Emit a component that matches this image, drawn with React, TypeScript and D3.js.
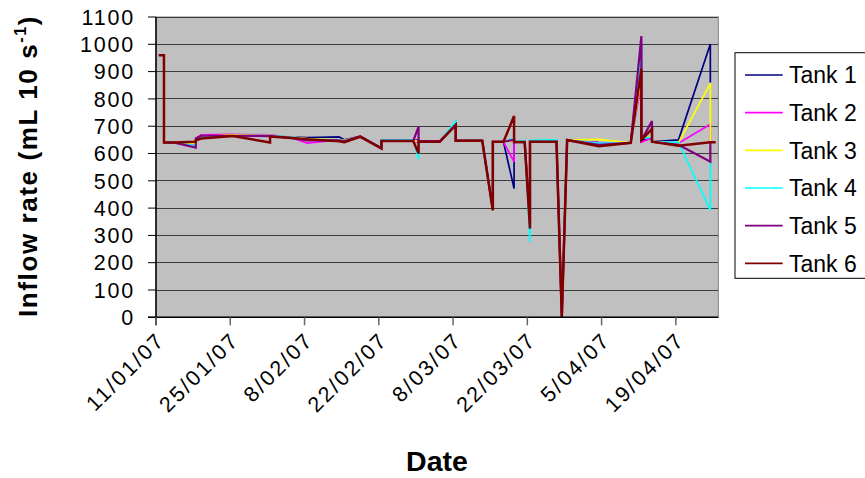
import React from 'react';
import * as d3 from 'd3';

// sample dates (repeated dates = several readings on one day)
const dates = [
  '11/01/07', '12/01/07', '12/01/07', '14/01/07', '18/01/07', '18/01/07', '19/01/07', '25/01/07',
  '01/02/07', '01/02/07', '05/02/07', '08/02/07', '14/02/07', '15/02/07', '18/02/07', '22/02/07',
  '22/02/07', '28/02/07', '01/03/07', '01/03/07', '05/03/07', '08/03/07', '08/03/07', '13/03/07',
  '15/03/07', '15/03/07', '17/03/07', '19/03/07', '19/03/07', '21/03/07', '22/03/07', '22/03/07',
  '27/03/07', '28/03/07', '29/03/07', '04/04/07', '10/04/07', '12/04/07', '12/04/07', '14/04/07',
  '14/04/07', '19/04/07', '25/04/07', '25/04/07', '26/04/07',
];

const tank1 = [null, 640, 640, 640, 636, 650, 660, 665, 665, 665, 660, 658, 661, 650, 663, 619, 646, 646, 650, 645, 645, 705, 647, 647, 392, 643, 643, 472, 642, 642, 330, 643, 643, 0, 649, 640, 639, 1000, 648, 655, 643, 650, 1001, 860, null];
const tank2 = [null, 640, 640, 640, 630, 655, 668, 670, 668, 668, 658, 638, 650, 645, 663, 619, 646, 646, 640, 645, 642, 705, 647, 647, 392, 643, 643, 569, 642, 642, 330, 643, 643, 0, 649, 640, 639, 860, 641, 658, 643, 638, 707, 641, null];
const tank3 = [null, 640, 640, 640, 636, 652, 662, 668, 666, 666, 660, 655, 650, 648, 663, 619, 646, 646, 645, 645, 645, 705, 647, 647, 388, 643, 643, 647, 642, 642, 330, 643, 643, 0, 649, 652, 639, 880, 655, 664, 643, 640, 857, 641, null];
const tank4 = [null, 640, 640, 640, 628, 650, 660, 665, 666, 666, 660, 652, 650, 646, 663, 622, 650, 650, 579, 645, 645, 718, 647, 647, 392, 643, 643, 655, 642, 648, 276, 648, 650, 0, 649, 638, 639, 990, 656, 660, 643, 641, 392, 570, null];
const tank5 = [null, 640, 640, 640, 622, 655, 665, 665, 664, 664, 657, 648, 648, 645, 663, 619, 646, 646, 698, 645, 645, 705, 647, 647, 392, 643, 643, 650, 642, 642, 343, 643, 643, 0, 649, 632, 639, 1030, 648, 719, 643, 632, 570, 641, null];
const tank6 = [960, 960, 640, 640, 643, 648, 655, 664, 640, 662, 657, 652, 645, 641, 661, 619, 646, 646, 600, 643, 643, 704, 647, 647, 392, 643, 643, 737, 642, 642, 325, 643, 643, 0, 649, 627, 639, 910, 649, 690, 643, 628, 641, 641, 641];

const seriesNames = ['Tank 1', 'Tank 2', 'Tank 3', 'Tank 4', 'Tank 5', 'Tank 6'];
const seriesColors = ['#000080', '#FF00FF', '#FFFF00', '#00FFFF', '#800080', '#800000'];
const xTickLabels = ['11/01/07', '25/01/07', '8/02/07', '22/02/07', '8/03/07', '22/03/07', '5/04/07', '19/04/07'];
const yTicks = [0, 100, 200, 300, 400, 500, 600, 700, 800, 900, 1000, 1100];

const FONT = '"Liberation Sans", Arial, sans-serif';

export default function App() {
  const width = 865;
  const height = 478;
  const plot = { left: 156, right: 718.3, top: 17, bottom: 317.3 };

  const parse = d3.utcParse('%d/%m/%y');
  const start = parse('11/01/07') as Date;
  const end = d3.utcDay.offset(start, 106);

  const x = d3.scaleUtc().domain([start, end]).range([plot.left, plot.right]);
  const y = d3.scaleLinear().domain([0, 1100]).range([plot.bottom, plot.top]);

  // points sit in the middle of their day slot
  const xPos = (s: string) => x(d3.utcHour.offset(parse(s) as Date, 12));

  const allSeries = [tank1, tank2, tank3, tank4, tank5, tank6];
  const line = d3
    .line<[string, number | null]>()
    .defined((d) => d[1] !== null)
    .x((d) => xPos(d[0]))
    .y((d) => y(d[1] as number));

  const legendY = d3.scaleLinear().domain([0, 5]).range([75, 263.3]);

  return (
    <svg
      width={width}
      height={height}
      style={{ position: 'absolute', left: 0, top: 0, background: '#fff' }}
      fontFamily={FONT}
    >
      <rect x={plot.left} y={plot.top} width={plot.right - plot.left} height={plot.bottom - plot.top} fill="#C0C0C0" stroke="#808080" strokeWidth={1} />

      {/* gridlines */}
      {yTicks.filter((t) => t > 0).map((t) => (
        <line key={t} x1={plot.left} x2={plot.right} y1={y(t)} y2={y(t)} stroke="#3c3c3c" strokeWidth={1} shapeRendering="crispEdges" />
      ))}

      {/* series */}
      {allSeries.map((vals, i) => (
        <path
          key={seriesNames[i]}
          d={line(dates.map((d, j) => [d, vals[j]] as [string, number | null])) || ''}
          fill="none"
          stroke={seriesColors[i]}
          strokeWidth={i === 5 ? 2.5 : i === 4 ? 2.2 : 1.7}
          strokeLinejoin="miter"
        />
      ))}

      {/* axes */}
      <line x1={plot.left} x2={plot.left} y1={plot.top} y2={plot.bottom + 8} stroke="#000" strokeWidth={1.5} />
      <line x1={plot.left - 8} x2={plot.right} y1={plot.bottom} y2={plot.bottom} stroke="#000" strokeWidth={1.5} />

      {yTicks.map((t) => (
        <g key={t}>
          <line x1={plot.left - 8} x2={plot.left} y1={y(t)} y2={y(t)} stroke="#000" strokeWidth={1} />
          <text x={135} y={y(t)} dy="0.36em" textAnchor="end" fontSize={21.5} letterSpacing={1.8}>
            {t}
          </text>
        </g>
      ))}

      {xTickLabels.map((s) => {
        const tx = x(parse(s) as Date);
        return (
          <g key={s}>
            <line x1={tx} x2={tx} y1={plot.bottom} y2={plot.bottom + 8} stroke="#666" strokeWidth={1.5} />
            <text
              transform={`translate(${tx + 10},${plot.bottom + 24}) rotate(-45)`}
              textAnchor="end"
              fontSize={21.5}
              letterSpacing={2.3}
            >
              {s}
            </text>
          </g>
        );
      })}

      <text x={437} y={471} textAnchor="middle" fontSize={28.5} fontWeight="bold">
        Date
      </text>
      <text transform="translate(37,166) rotate(-90)" textAnchor="middle" fontSize={26} fontWeight="bold" letterSpacing={1.6}>
        Inflow rate (mL 10 s
        <tspan fontSize={16} dy={-11}>-1</tspan>
        <tspan dy={11}>)</tspan>
      </text>

      {/* legend */}
      <rect x={735} y={52.7} width={140} height={225.6} fill="#fff" stroke="#000" strokeWidth={1} />
      {seriesNames.map((n, i) => (
        <g key={n} transform={`translate(0,${legendY(i)})`}>
          <line x1={745} x2={782.7} y1={0} y2={0} stroke={seriesColors[i]} strokeWidth={1.7} />
          <text x={789} y={0} dy="0.36em" fontSize={23}>
            {n}
          </text>
        </g>
      ))}
    </svg>
  );
}
